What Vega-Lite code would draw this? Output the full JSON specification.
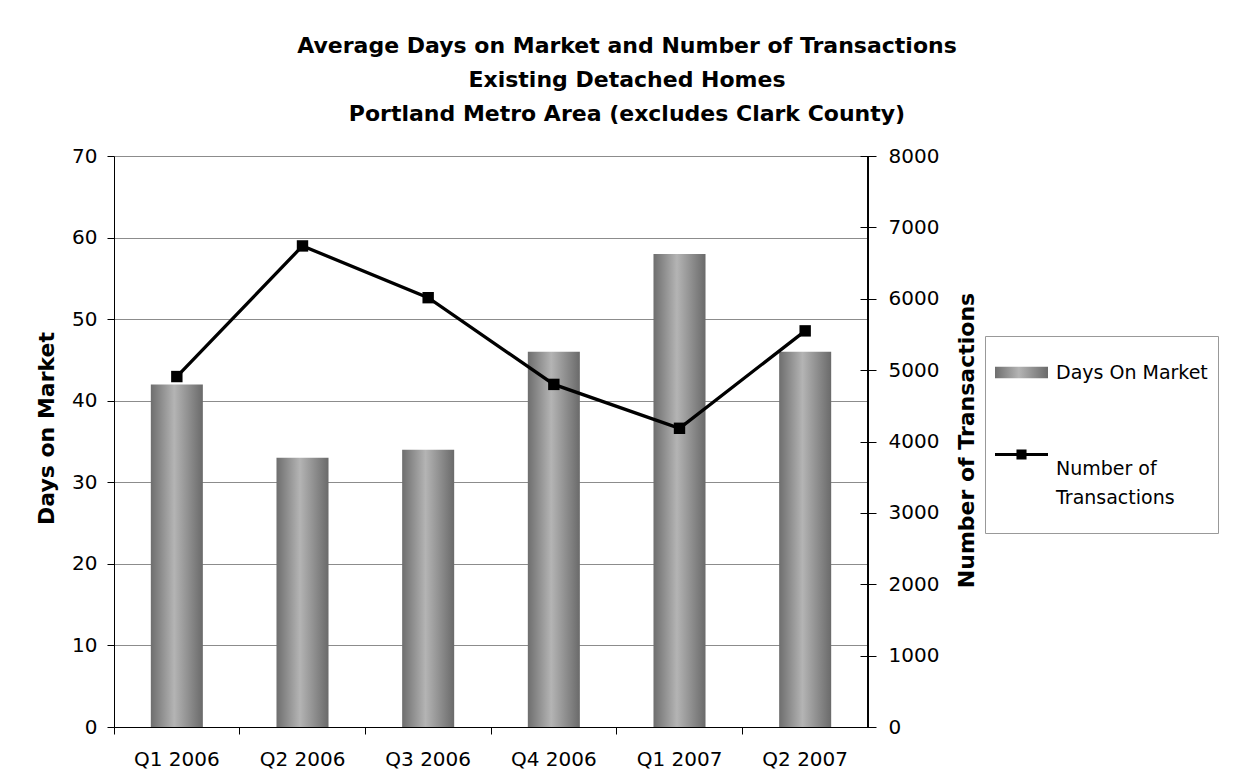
{
  "$schema": "https://vega.github.io/schema/vega-lite/v6.json",
  "width": 754,
  "height": 571,
  "autosize": {"type": "none"},
  "padding": {"left": 114, "top": 156, "right": 374, "bottom": 50},
  "background": "white",
  "config": {
    "view": {"stroke": null},
    "font": "DejaVu Sans",
    "axis": {"labelFont": "DejaVu Sans", "titleFont": "DejaVu Sans", "labelColor": "black", "titleColor": "black"}
  },
  "title": {
    "text": ["Average Days on Market and Number of Transactions", "Existing Detached Homes", "Portland Metro Area (excludes Clark County)"],
    "font": "DejaVu Sans",
    "fontSize": 22,
    "fontWeight": "bold",
    "lineHeight": 34,
    "anchor": "middle",
    "dx": 136,
    "offset": 20,
    "color": "black"
  },
  "data": {
    "values": [
      {"quarter": "Q1 2006", "days": 42, "transactions": 4910},
      {"quarter": "Q2 2006", "days": 33, "transactions": 6740},
      {"quarter": "Q3 2006", "days": 34, "transactions": 6015},
      {"quarter": "Q4 2006", "days": 46, "transactions": 4800},
      {"quarter": "Q1 2007", "days": 58, "transactions": 4185},
      {"quarter": "Q2 2007", "days": 46, "transactions": 5550}
    ]
  },
  "layer": [
    {
      "mark": {
        "type": "bar",
        "width": {"band": 0.414},
        "color": {"gradient": "linear", "x1": 0, "y1": 0, "x2": 1, "y2": 0, "stops": [{"offset": 0, "color": "#6e6e6e"}, {"offset": 0.45, "color": "#b4b4b4"}, {"offset": 1, "color": "#6a6a6a"}]}
      },
      "encoding": {
        "x": {
          "field": "quarter", "type": "ordinal", "sort": null,
          "scale": {"paddingInner": 0, "paddingOuter": 0},
          "axis": {"title": null, "orient": "bottom", "labelAngle": 0, "ticks": false, "tickSize": 0, "domain": true, "domainColor": "black", "domainWidth": 1, "labelFontSize": 20, "labelBaseline": "alphabetic", "labelPadding": 38, "grid": false, "zindex": 1}
        },
        "y": {
          "field": "days", "type": "quantitative",
          "scale": {"domain": [0, 70]},
          "axis": {"title": "Days on Market", "orient": "left", "values": [0, 10, 20, 30, 40, 50, 60, 70], "grid": true, "gridColor": "#8c8c8c", "gridWidth": 1, "domainColor": "black", "tickColor": "black", "tickSize": 7, "labelFontSize": 20, "labelPadding": 10, "titleFontSize": 22, "titleFontWeight": "bold", "titleAngle": -90, "titleX": -61, "titleY": 272, "titleAlign": "center", "titleBaseline": "alphabetic"}
        }
      }
    },
    {
      "mark": {"type": "rule", "color": "black", "strokeWidth": 1},
      "encoding": {
        "x": {"datum": "Q2 2007", "type": "ordinal", "bandPosition": 1, "axis": null}
      }
    },
    {
      "mark": {"type": "line", "strokeWidth": 3.3, "point": {"shape": "square", "size": 130, "filled": true}},
      "encoding": {
        "x": {
          "field": "quarter", "type": "ordinal", "sort": null,
          "axis": {"title": null, "orient": "bottom", "labels": false, "domain": false, "ticks": true, "tickColor": "black", "tickSize": 7, "bandPosition": 0, "grid": false}
        },
        "y": {
          "field": "transactions", "type": "quantitative",
          "scale": {"domain": [0, 8000]},
          "axis": {"title": "Number of Transactions", "orient": "right", "offset": -8, "format": "d", "values": [0, 1000, 2000, 3000, 4000, 5000, 6000, 7000, 8000], "grid": false, "domain": false, "tickColor": "black", "tickSize": 16, "labelFontSize": 20, "labelPadding": 12, "titleFontSize": 22, "titleFontWeight": "bold", "titleAngle": -90, "titleX": 113, "titleY": 284, "titleAlign": "center", "titleBaseline": "alphabetic"}
        },
        "color": {
          "datum": "Number of Transactions", "type": "nominal",
          "scale": {"domain": ["Days On Market", "Number of Transactions"], "range": [{"expr": "{gradient: 'linear', x1: 0, y1: 0, x2: 1, y2: 0, stops: [{offset: 0, color: '#6e6e6e'}, {offset: 0.45, color: '#b4b4b4'}, {offset: 1, color: '#6a6a6a'}]}"}, "black"]},
          "legend": {
            "title": " ",
            "titleOrient": "bottom",
            "titleFontSize": 12,
            "titlePadding": 4,
            "orient": "none",
            "legendX": 871,
            "legendY": 180,
            "padding": 10,
            "strokeColor": "#999999",
            "fillColor": "white",
            "rowPadding": 45,
            "symbolSize": 2809,
            "labelFont": "DejaVu Sans",
            "labelFontSize": 19,
            "labelColor": "black",
            "labelOffset": 8,
            "labelLimit": 300,
            "labelExpr": "datum.label == 'Number of Transactions' ? ['Number of', 'Transactions'] : datum.label",
            "encode": {
              "symbols": {
                "update": {
                  "shape": {"signal": "datum.value == 'Days On Market' ? 'M-1,-0.22H1V0.22H-1Z' : 'M-1,-0.055H-0.19V-0.19H0.19V-0.055H1V0.055H0.19V0.19H-0.19V0.055H-1Z'"},
                  "stroke": {"value": "transparent"},
                  "strokeWidth": {"value": 0},
                  "opacity": {"value": 1}
                }
              },
              "labels": {
                "update": {
                  "dy": {"signal": "datum.value == 'Number of Transactions' ? 14 : 0"},
                  "lineHeight": {"value": 29}
                }
              }
            }
          }
        }
      }
    }
  ],
  "resolve": {"scale": {"y": "independent"}, "axis": {"x": "independent"}}
}
